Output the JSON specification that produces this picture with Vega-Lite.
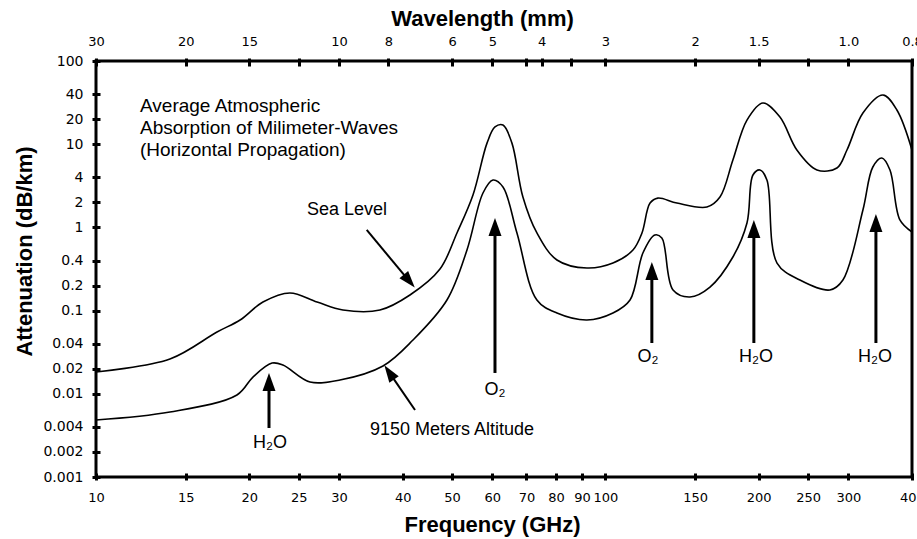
{
  "$schema": "https://vega.github.io/schema/vega-lite/v6.json",
  "width": 816,
  "height": 416,
  "autosize": {"type": "none"},
  "padding": {"left": 96, "top": 61, "right": 5, "bottom": 62},
  "background": "white",
  "config": {
    "view": {"stroke": "#000", "strokeWidth": 3},
    "font": "Liberation Sans",
    "axis": {
      "domain": false,
      "grid": false,
      "tickColor": "#000",
      "tickWidth": 3,
      "labelColor": "#000",
      "titleColor": "#000",
      "labelFont": "DejaVu Sans",
      "titleFont": "Liberation Sans",
      "titleFontWeight": "bold",
      "titleFontSize": 22,
      "labelOverlap": false,
      "labelFlush": false
    }
  },
  "datasets": {
    "curves": [
      {"series": "Sea Level", "f": 10, "a": 0.0183},
      {"series": "Sea Level", "f": 13.97, "a": 0.0262},
      {"series": "Sea Level", "f": 17.28, "a": 0.0553},
      {"series": "Sea Level", "f": 19.18, "a": 0.0771},
      {"series": "Sea Level", "f": 21.27, "a": 0.1268},
      {"series": "Sea Level", "f": 24.03, "a": 0.163},
      {"series": "Sea Level", "f": 27.16, "a": 0.1268},
      {"series": "Sea Level", "f": 30.54, "a": 0.1017},
      {"series": "Sea Level", "f": 36.1, "a": 0.1017},
      {"series": "Sea Level", "f": 41.34, "a": 0.154},
      {"series": "Sea Level", "f": 47.35, "a": 0.316},
      {"series": "Sea Level", "f": 51.13, "a": 0.857},
      {"series": "Sea Level", "f": 54.97, "a": 2.45},
      {"series": "Sea Level", "f": 58.57, "a": 10.3},
      {"series": "Sea Level", "f": 60.72, "a": 16.1},
      {"series": "Sea Level", "f": 62.95, "a": 17.0},
      {"series": "Sea Level", "f": 65.56, "a": 10.3},
      {"series": "Sea Level", "f": 68.89, "a": 2.32},
      {"series": "Sea Level", "f": 73.39, "a": 0.857},
      {"series": "Sea Level", "f": 80.35, "a": 0.406},
      {"series": "Sea Level", "f": 92.03, "a": 0.325},
      {"series": "Sea Level", "f": 103.5, "a": 0.373},
      {"series": "Sea Level", "f": 113.3, "a": 0.535},
      {"series": "Sea Level", "f": 118.0, "a": 0.857},
      {"series": "Sea Level", "f": 122.4, "a": 1.96},
      {"series": "Sea Level", "f": 126.8, "a": 2.25},
      {"series": "Sea Level", "f": 138.2, "a": 1.96},
      {"series": "Sea Level", "f": 158.3, "a": 1.76},
      {"series": "Sea Level", "f": 167.9, "a": 2.32},
      {"series": "Sea Level", "f": 178.0, "a": 6.46},
      {"series": "Sea Level", "f": 189.7, "a": 19.5},
      {"series": "Sea Level", "f": 203.9, "a": 31.3},
      {"series": "Sea Level", "f": 220.2, "a": 21.2},
      {"series": "Sea Level", "f": 237.7, "a": 8.52},
      {"series": "Sea Level", "f": 260.3, "a": 4.9},
      {"series": "Sea Level", "f": 284.9, "a": 5.17},
      {"series": "Sea Level", "f": 298.1, "a": 8.52},
      {"series": "Sea Level", "f": 320.4, "a": 23.7},
      {"series": "Sea Level", "f": 350.8, "a": 39.0},
      {"series": "Sea Level", "f": 373.6, "a": 25.8},
      {"series": "Sea Level", "f": 400, "a": 8.52},
      {"series": "9150 m", "f": 10, "a": 0.00484},
      {"series": "9150 m", "f": 13.97, "a": 0.00604},
      {"series": "9150 m", "f": 18.91, "a": 0.00968},
      {"series": "9150 m", "f": 20.33, "a": 0.0159},
      {"series": "9150 m", "f": 22.16, "a": 0.0234},
      {"series": "9150 m", "f": 23.28, "a": 0.0222},
      {"series": "9150 m", "f": 26.31, "a": 0.01387},
      {"series": "9150 m", "f": 30.13, "a": 0.01466},
      {"series": "9150 m", "f": 36.6, "a": 0.0216},
      {"series": "9150 m", "f": 41.91, "a": 0.0443},
      {"series": "9150 m", "f": 48.87, "a": 0.134},
      {"series": "9150 m", "f": 53.5, "a": 0.535},
      {"series": "9150 m", "f": 57.51, "a": 2.59},
      {"series": "9150 m", "f": 60.17, "a": 3.71},
      {"series": "9150 m", "f": 62.95, "a": 3.06},
      {"series": "9150 m", "f": 67.06, "a": 0.857},
      {"series": "9150 m", "f": 73.39, "a": 0.134},
      {"series": "9150 m", "f": 80.35, "a": 0.0935},
      {"series": "9150 m", "f": 92.03, "a": 0.0771},
      {"series": "9150 m", "f": 103.5, "a": 0.0935},
      {"series": "9150 m", "f": 111.8, "a": 0.134},
      {"series": "9150 m", "f": 118.5, "a": 0.492},
      {"series": "9150 m", "f": 125.1, "a": 0.811},
      {"series": "9150 m", "f": 129.1, "a": 0.746},
      {"series": "9150 m", "f": 135.8, "a": 0.177},
      {"series": "9150 m", "f": 146.6, "a": 0.146},
      {"series": "9150 m", "f": 160.5, "a": 0.192},
      {"series": "9150 m", "f": 178.0, "a": 0.441},
      {"series": "9150 m", "f": 189.7, "a": 1.13},
      {"series": "9150 m", "f": 194.9, "a": 4.26},
      {"series": "9150 m", "f": 201.2, "a": 4.9},
      {"series": "9150 m", "f": 207.6, "a": 3.71},
      {"series": "9150 m", "f": 217.3, "a": 0.373},
      {"series": "9150 m", "f": 241.0, "a": 0.233},
      {"series": "9150 m", "f": 276.0, "a": 0.177},
      {"series": "9150 m", "f": 292.7, "a": 0.233},
      {"series": "9150 m", "f": 320.4, "a": 1.62},
      {"series": "9150 m", "f": 335.1, "a": 5.32},
      {"series": "9150 m", "f": 349.1, "a": 6.82},
      {"series": "9150 m", "f": 362.1, "a": 4.9},
      {"series": "9150 m", "f": 378.7, "a": 1.23},
      {"series": "9150 m", "f": 400, "a": 0.881}
    ],
    "notes": [
      {"kind": "block", "f": 12.2, "a": 36.9, "text": "Average Atmospheric\nAbsorption of Milimeter-Waves\n(Horizontal Propagation)"},
      {"kind": "left", "f": 25.96, "a": 1.62, "text": "Sea Level"},
      {"kind": "left", "f": 34.5, "a": 0.00367, "text": "9150 Meters Altitude"},
      {"kind": "center", "f": 21.96, "a": 0.00256, "text": "H₂O"},
      {"kind": "center", "f": 60.72, "a": 0.0111, "text": "O₂"},
      {"kind": "center", "f": 121.2, "a": 0.0277, "text": "O₂"},
      {"kind": "center", "f": 197.6, "a": 0.0277, "text": "H₂O"},
      {"kind": "center", "f": 338.3, "a": 0.0277, "text": "H₂O"}
    ],
    "shafts": [
      {"kind": "v", "f": 21.86, "a": 0.00388, "f2": 21.86, "a2": 0.01349},
      {"kind": "v", "f": 60.72, "a": 0.0178, "f2": 60.72, "a2": 0.984},
      {"kind": "v", "f": 123.4, "a": 0.0408, "f2": 123.4, "a2": 0.291},
      {"kind": "v", "f": 195.7, "a": 0.0408, "f2": 195.7, "a2": 0.931},
      {"kind": "v", "f": 339.8, "a": 0.0408, "f2": 339.8, "a2": 1.099},
      {"kind": "d", "f": 34.0, "a": 0.931, "f2": 41.1, "a2": 0.231},
      {"kind": "d", "f": 42.3, "a": 0.00638, "f2": 37.73, "a2": 0.0177}
    ],
    "heads": [
      {"kind": "v", "f": 21.86, "a": 0.01349},
      {"kind": "v", "f": 60.72, "a": 0.984},
      {"kind": "v", "f": 123.4, "a": 0.291},
      {"kind": "v", "f": 195.7, "a": 0.931},
      {"kind": "v", "f": 339.8, "a": 1.099},
      {"kind": "sea", "f": 41.1, "a": 0.231},
      {"kind": "alt", "f": 37.73, "a": 0.0177}
    ]
  },
  "resolve": {"axis": {"x": "independent", "y": "independent"}},
  "layer": [
    {
      "data": {"name": "curves"},
      "mark": {"type": "line", "interpolate": "catmull-rom", "color": "#000", "strokeWidth": 1.6},
      "encoding": {
        "x": {
          "field": "f", "type": "quantitative",
          "scale": {"type": "log", "domain": [10, 400], "nice": false},
          "axis": {
            "orient": "bottom", "title": "Frequency (GHz)",
            "values": [10, 15, 20, 25, 30, 40, 50, 60, 70, 80, 90, 100, 150, 200, 250, 300, 400],
            "format": "~g", "offset": -4, "tickSize": 7, "labelPadding": 11,
            "labelFontSize": 13, "titlePadding": 10, "titleX": 396
          }
        },
        "y": {
          "field": "a", "type": "quantitative",
          "scale": {"type": "log", "domain": [0.001, 100], "nice": false},
          "axis": {
            "orient": "left", "title": "Attenuation (dB/km)",
            "values": [0.001, 0.002, 0.004, 0.01, 0.02, 0.04, 0.1, 0.2, 0.4, 1, 2, 4, 10, 20, 40, 100],
            "format": "~g", "offset": -4, "tickSize": 8, "labelPadding": 9,
            "labelFontSize": 14, "titlePadding": 6, "titleY": 190
          }
        },
        "detail": {"field": "series"}
      }
    },
    {
      "data": {"name": "curves"},
      "mark": {"type": "point", "opacity": 0},
      "encoding": {
        "x": {
          "field": "f", "type": "quantitative",
          "scale": {"type": "log", "domain": [10, 400], "nice": false},
          "axis": {
            "orient": "top", "title": "Wavelength (mm)",
            "values": [10, 15, 20, 25, 30, 37.5, 50, 60, 70, 75, 85.7, 100, 150, 200, 250, 300, 400],
            "labelExpr": "datum.value==10?'30':datum.value==15?'20':datum.value==20?'15':datum.value==30?'10':datum.value==37.5?'8':datum.value==50?'6':datum.value==60?'5':datum.value==75?'4':datum.value==100?'3':datum.value==150?'2':datum.value==200?'1.5':datum.value==300?'1.0':datum.value==400?'0.8':''",
            "offset": -5, "tickSize": 8, "labelPadding": 10,
            "labelFontSize": 13, "titlePadding": 5, "titleX": 386
          }
        },
        "y": {"field": "a", "type": "quantitative", "scale": {"type": "log", "domain": [0.001, 100], "nice": false}, "axis": null}
      }
    },
    {
      "data": {"name": "shafts"},
      "transform": [{"filter": "datum.kind == 'v'"}],
      "mark": {"type": "rule", "color": "#000", "strokeWidth": 3},
      "encoding": {
        "x": {"field": "f", "type": "quantitative", "scale": {"type": "log", "domain": [10, 400], "nice": false}, "axis": null},
        "y": {"field": "a", "type": "quantitative", "scale": {"type": "log", "domain": [0.001, 100], "nice": false}, "axis": null},
        "x2": {"field": "f2"},
        "y2": {"field": "a2"}
      }
    },
    {
      "data": {"name": "shafts"},
      "transform": [{"filter": "datum.kind == 'd'"}],
      "mark": {"type": "rule", "color": "#000", "strokeWidth": 2},
      "encoding": {
        "x": {"field": "f", "type": "quantitative", "scale": {"type": "log", "domain": [10, 400], "nice": false}, "axis": null},
        "y": {"field": "a", "type": "quantitative", "scale": {"type": "log", "domain": [0.001, 100], "nice": false}, "axis": null},
        "x2": {"field": "f2"},
        "y2": {"field": "a2"}
      }
    },
    {
      "data": {"name": "heads"},
      "transform": [{"filter": "datum.kind == 'v'"}],
      "mark": {"type": "point", "shape": "M0,-1L-0.65,0.8L0.65,0.8Z", "filled": true, "color": "#000", "opacity": 1, "size": 400, "angle": 0},
      "encoding": {
        "x": {"field": "f", "type": "quantitative", "scale": {"type": "log", "domain": [10, 400], "nice": false}, "axis": null},
        "y": {"field": "a", "type": "quantitative", "scale": {"type": "log", "domain": [0.001, 100], "nice": false}, "axis": null}
      }
    },
    {
      "data": {"name": "heads"},
      "transform": [{"filter": "datum.kind == 'sea'"}],
      "mark": {"type": "point", "shape": "M0,-1L-0.6,0.8L0.6,0.8Z", "filled": true, "color": "#000", "opacity": 1, "size": 360, "angle": 140},
      "encoding": {
        "x": {"field": "f", "type": "quantitative", "scale": {"type": "log", "domain": [10, 400], "nice": false}, "axis": null},
        "y": {"field": "a", "type": "quantitative", "scale": {"type": "log", "domain": [0.001, 100], "nice": false}, "axis": null}
      }
    },
    {
      "data": {"name": "heads"},
      "transform": [{"filter": "datum.kind == 'alt'"}],
      "mark": {"type": "point", "shape": "M0,-1L-0.6,0.8L0.6,0.8Z", "filled": true, "color": "#000", "opacity": 1, "size": 360, "angle": -34.5},
      "encoding": {
        "x": {"field": "f", "type": "quantitative", "scale": {"type": "log", "domain": [10, 400], "nice": false}, "axis": null},
        "y": {"field": "a", "type": "quantitative", "scale": {"type": "log", "domain": [0.001, 100], "nice": false}, "axis": null}
      }
    },
    {
      "data": {"name": "notes"},
      "transform": [{"filter": "datum.kind == 'block'"}],
      "mark": {"type": "text", "align": "left", "baseline": "top", "fontSize": 19, "lineHeight": 22, "lineBreak": "\n", "color": "#000", "font": "Liberation Sans"},
      "encoding": {
        "x": {"field": "f", "type": "quantitative", "scale": {"type": "log", "domain": [10, 400], "nice": false}, "axis": null},
        "y": {"field": "a", "type": "quantitative", "scale": {"type": "log", "domain": [0.001, 100], "nice": false}, "axis": null},
        "text": {"field": "text"}
      }
    },
    {
      "data": {"name": "notes"},
      "transform": [{"filter": "datum.kind == 'left'"}],
      "mark": {"type": "text", "align": "left", "baseline": "middle", "fontSize": 18, "color": "#000", "font": "Liberation Sans"},
      "encoding": {
        "x": {"field": "f", "type": "quantitative", "scale": {"type": "log", "domain": [10, 400], "nice": false}, "axis": null},
        "y": {"field": "a", "type": "quantitative", "scale": {"type": "log", "domain": [0.001, 100], "nice": false}, "axis": null},
        "text": {"field": "text"}
      }
    },
    {
      "data": {"name": "notes"},
      "transform": [{"filter": "datum.kind == 'center'"}],
      "mark": {"type": "text", "align": "center", "baseline": "middle", "fontSize": 18, "color": "#000", "font": "Liberation Sans"},
      "encoding": {
        "x": {"field": "f", "type": "quantitative", "scale": {"type": "log", "domain": [10, 400], "nice": false}, "axis": null},
        "y": {"field": "a", "type": "quantitative", "scale": {"type": "log", "domain": [0.001, 100], "nice": false}, "axis": null},
        "text": {"field": "text"}
      }
    }
  ]
}
